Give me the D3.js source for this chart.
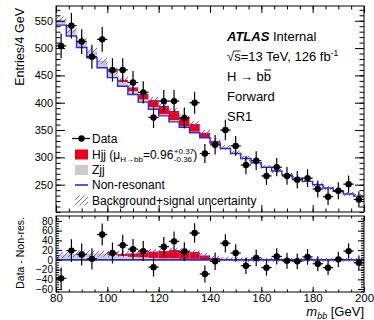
<!DOCTYPE html>
<html>
<head>
<meta charset="utf-8">
<script src="https://cdn.jsdelivr.net/npm/d3@7"></script>
<style>
  body { margin: 0; background: #fff; }
  svg text { font-family: "Liberation Sans", Arial, Helvetica, sans-serif; fill: #000; }
</style>
</head>
<body>
<svg id="chart" width="374" height="320"></svg>
<script>
// bin centres of the m_bb histogram (4 GeV bins)
const binCenters = [82, 86, 90, 94, 98, 102, 106, 110, 114, 118, 122, 126, 130, 134, 138,
                    142, 146, 150, 154, 158, 162, 166, 170, 174, 178, 182, 186, 190, 194, 198];
const dataCounts = [504, 541, 512, 484, 516, 460, 460, 437, 419, 373, 403, 403, 372, 400, 307,
                    323, 350, 321, 286, 294, 266, 282, 266, 259, 262, 242, 228, 239, 251, 223];
const nonResonant = [542, 522, 501, 482, 464, 446, 430, 415, 401, 388, 376, 365, 355, 345, 336,
                     326, 316, 307, 298, 290, 282, 275, 268, 262, 256, 250, 244, 238, 233, 229];
const zjj = [10, 12, 13, 13, 12, 10, 8, 6, 5, 4, 3, 3, 2, 2, 1,
             1, 0.5, 0.5, 0.3, 0.3, 0.2, 0.2, 0, 0, 0, 0, 0, 0, 0, 0];
const hjj = [0, 0, 0, 0, 0.5, 2, 4, 7, 10, 13, 15, 17, 17, 14, 8,
             3, 1.5, 0.5, 0, 0, 0, 0, 0, 0, 0, 0, 0, 0, 0, 0];
const bandUnc = [6, 6, 6, 6, 6, 6, 6, 6, 5.5, 5.5, 5.5, 5.5, 5, 5, 5,
                 5, 4.5, 4.5, 4.5, 4.5, 4, 4, 4, 4, 4, 4, 4, 4, 4, 4];

const upperTicks = [250, 300, 350, 400, 450, 500, 550];
const lowerTicks = [-60, -40, -20, 0, 20, 40, 60, 80];
const xTicks = [80, 100, 120, 140, 160, 180, 200];

const binWidth = 4;
const left = 56, right = 364;
const upTop = 6, upBottom = 212;
const loTop = 216, loBottom = 292;

const red = '#e8001c', gray = '#cccccc', blue = '#2b2bd6', hatchCol = '#5c5cf0';

const x = d3.scaleLinear().domain([80, 200]).range([left, right]);
const yTop = d3.scaleLinear().domain([200, 577]).range([upBottom, upTop]);
const yBot = d3.scaleLinear().domain([-66, 90]).range([loBottom, loTop]);

const rows = binCenters.map((c, i) => ({
  lo: c - binWidth / 2, hi: c + binWidth / 2, c: c,
  nr: nonResonant[i], z: zjj[i], h: hjj[i], u: bandUnc[i], d: dataCounts[i]
}));

const svg = d3.select('#chart');
const defs = svg.append('defs');

const pat = defs.append('pattern')
  .attr('id', 'hatch')
  .attr('patternUnits', 'userSpaceOnUse')
  .attr('width', 5).attr('height', 5);
pat.append('path')
  .attr('d', 'M-1,1 L1,-1 M0,5 L5,0 M4,6 L6,4')
  .attr('stroke', hatchCol).attr('stroke-width', 0.9);

defs.append('clipPath').attr('id', 'clipUp')
  .append('rect').attr('x', left).attr('y', upTop).attr('width', right - left).attr('height', upBottom - upTop);
defs.append('clipPath').attr('id', 'clipLo')
  .append('rect').attr('x', left).attr('y', loTop).attr('width', right - left).attr('height', loBottom - loTop);

// ---------- panels ----------
function drawPanel(y, clipId, isRatio) {
  const g = svg.append('g').attr('clip-path', `url(#${clipId})`);
  const b = r => isRatio ? 0 : r.nr;

  g.selectAll('rect.zjj').data(rows).enter().append('rect')
    .attr('class', 'zjj')
    .attr('x', r => x(r.lo)).attr('width', r => x(r.hi) - x(r.lo))
    .attr('y', r => y(b(r) + r.z)).attr('height', r => y(b(r)) - y(b(r) + r.z))
    .attr('fill', gray);

  g.selectAll('rect.hjj').data(rows).enter().append('rect')
    .attr('class', 'hjj')
    .attr('x', r => x(r.lo)).attr('width', r => x(r.hi) - x(r.lo))
    .attr('y', r => y(b(r) + r.z + r.h)).attr('height', r => y(b(r) + r.z) - y(b(r) + r.z + r.h))
    .attr('fill', red);

  const last = rows[rows.length - 1];
  const stepPts = rows.concat([{ ...last, lo: last.hi }]);

  const band = d3.area()
    .curve(d3.curveStepAfter)
    .x(r => x(r.lo))
    .y0(r => y(b(r) + r.z + r.h - r.u))
    .y1(r => y(b(r) + r.z + r.h + r.u));
  g.append('path').datum(stepPts).attr('d', band).attr('fill', 'url(#hatch)');

  const line = d3.line().curve(d3.curveStepAfter)
    .x(r => x(r.lo)).y(r => y(b(r)));
  g.append('path').datum(stepPts).attr('d', line)
    .attr('fill', 'none').attr('stroke', blue).attr('stroke-width', isRatio ? 1.8 : 1.4);

  // data
  const val = r => isRatio ? r.d - r.nr : r.d;
  const err = r => Math.sqrt(r.d);
  const dg = svg.append('g');
  dg.selectAll('line.ey').data(rows).enter().append('line')
    .attr('x1', r => x(r.c)).attr('x2', r => x(r.c))
    .attr('y1', r => y(val(r) - err(r))).attr('y2', r => y(val(r) + err(r)))
    .attr('stroke', '#000').attr('stroke-width', 1.2);
  dg.selectAll('line.ex').data(rows).enter().append('line')
    .attr('x1', r => x(r.lo)).attr('x2', r => x(r.hi))
    .attr('y1', r => y(val(r))).attr('y2', r => y(val(r)))
    .attr('stroke', '#000').attr('stroke-width', 1.2);
  dg.selectAll('circle').data(rows).enter().append('circle')
    .attr('cx', r => x(r.c)).attr('cy', r => y(val(r))).attr('r', 3.2)
    .attr('fill', '#000');
}

drawPanel(yTop, 'clipUp', false);
drawPanel(yBot, 'clipLo', true);

// ---------- axes ----------
function styleAxis(g) {
  g.select('.domain').remove();
  g.selectAll('line').attr('stroke', '#000').attr('stroke-width', 1);
  g.selectAll('text').attr('fill', '#000').style('font-family', '"Liberation Sans", Arial, sans-serif');
}
function addAxis(axis, tx, ty, fontSize) {
  const g = svg.append('g').attr('transform', `translate(${tx},${ty})`).call(axis).call(styleAxis);
  if (fontSize) g.selectAll('text').style('font-size', fontSize + 'px');
  return g;
}

const upMinor = d3.range(200, 577, 10);
const loMinor = d3.range(-65, 90, 5);
const xMinor = d3.range(80, 201, 5);

// upper y
addAxis(d3.axisLeft(yTop).tickValues(upperTicks).tickSize(-9).tickPadding(3), left, 0, 11);
addAxis(d3.axisLeft(yTop).tickValues(upMinor).tickSize(-4.5).tickFormat(''), left, 0);
addAxis(d3.axisRight(yTop).tickValues(upperTicks).tickSize(-9).tickFormat(''), right, 0);
addAxis(d3.axisRight(yTop).tickValues(upMinor).tickSize(-4.5).tickFormat(''), right, 0);
// upper x
addAxis(d3.axisTop(x).tickValues(xTicks).tickSize(-7).tickFormat(''), 0, upTop);
addAxis(d3.axisTop(x).tickValues(xMinor).tickSize(-3.5).tickFormat(''), 0, upTop);
addAxis(d3.axisBottom(x).tickValues(xTicks).tickSize(-7).tickFormat(''), 0, upBottom);
addAxis(d3.axisBottom(x).tickValues(xMinor).tickSize(-3.5).tickFormat(''), 0, upBottom);
// lower y
addAxis(d3.axisLeft(yBot).tickValues(lowerTicks).tickSize(-6).tickPadding(3), left, 0, 10);
addAxis(d3.axisLeft(yBot).tickValues(loMinor).tickSize(-3).tickFormat(''), left, 0);
addAxis(d3.axisRight(yBot).tickValues(lowerTicks).tickSize(-6).tickFormat(''), right, 0);
addAxis(d3.axisRight(yBot).tickValues(loMinor).tickSize(-3).tickFormat(''), right, 0);
// lower x
addAxis(d3.axisBottom(x).tickValues(xTicks).tickSize(-5).tickPadding(1.5), 0, loBottom, 11.5);
addAxis(d3.axisBottom(x).tickValues(xMinor).tickSize(-2.5).tickFormat(''), 0, loBottom);
addAxis(d3.axisTop(x).tickValues(xTicks).tickSize(-5).tickFormat(''), 0, loTop);
addAxis(d3.axisTop(x).tickValues(xMinor).tickSize(-2.5).tickFormat(''), 0, loTop);

// frames
svg.append('rect').attr('x', left).attr('y', upTop).attr('width', right - left).attr('height', upBottom - upTop)
  .attr('fill', 'none').attr('stroke', '#000').attr('stroke-width', 1);
svg.append('rect').attr('x', left).attr('y', loTop).attr('width', right - left).attr('height', loBottom - loTop)
  .attr('fill', 'none').attr('stroke', '#000').attr('stroke-width', 1);

// axis titles
svg.append('text').attr('transform', 'translate(24,8) rotate(-90)')
  .attr('text-anchor', 'end').style('font-size', '12.5px').text('Entries/4 GeV');
svg.append('text').attr('transform', `translate(24,${loTop + 1}) rotate(-90)`)
  .attr('text-anchor', 'end').style('font-size', '10.5px').text('Data - Non-res.');

const xt = svg.append('text').attr('x', right).attr('y', 316).attr('text-anchor', 'end').style('font-size', '13px');
xt.append('tspan').style('font-style', 'italic').text('m');
xt.append('tspan').style('font-style', 'italic').style('font-size', '9px').attr('dy', 2.5).text('bb');
xt.append('tspan').attr('dy', -2.5).text(' [GeV]');

// ---------- labels top right ----------
const lx = 227, ly0 = 41, lstep = 20;
const t1 = svg.append('text').attr('x', lx).attr('y', ly0).style('font-size', '13px');
t1.append('tspan').style('font-weight', 'bold').style('font-style', 'italic').text('ATLAS');
t1.append('tspan').text(' Internal');

const t2 = svg.append('text').attr('x', lx).attr('y', ly0 + lstep).style('font-size', '13px');
t2.append('tspan').text('\u221As=13 TeV, 126 fb');
t2.append('tspan').style('font-size', '8.5px').attr('dy', -5).text('-1');
// bar of the square root over s
const sq = t2.node().getSubStringLength(0, 1);
const sw = t2.node().getSubStringLength(1, 1);
svg.append('line').attr('x1', lx + sq - 0.5).attr('x2', lx + sq + sw)
  .attr('y1', ly0 + lstep - 10).attr('y2', ly0 + lstep - 10).attr('stroke', '#000').attr('stroke-width', 0.8);

const t3 = svg.append('text').attr('x', lx).attr('y', ly0 + 2 * lstep).style('font-size', '13px').text('H \u2192 bb');
const bStart = t3.node().getSubStringLength(0, 5);
const bW = t3.node().getSubStringLength(5, 1);
svg.append('line').attr('x1', lx + bStart + 0.5).attr('x2', lx + bStart + bW)
  .attr('y1', ly0 + 2 * lstep - 11).attr('y2', ly0 + 2 * lstep - 11).attr('stroke', '#000').attr('stroke-width', 1);

svg.append('text').attr('x', lx).attr('y', ly0 + 3 * lstep).style('font-size', '13px').text('Forward');
svg.append('text').attr('x', lx).attr('y', ly0 + 4 * lstep).style('font-size', '13px').text('SR1');

// ---------- legend ----------
const legX = 75, legW = 13, legTx = 92;
const legY = [138.5, 154.5, 170, 185, 200.5];
const leg = svg.append('g').style('font-size', '12px');

leg.append('line').attr('x1', 72).attr('x2', 90).attr('y1', legY[0]).attr('y2', legY[0])
  .attr('stroke', '#000').attr('stroke-width', 1.2);
leg.append('circle').attr('cx', 81.5).attr('cy', legY[0]).attr('r', 3.2).attr('fill', '#000');
leg.append('text').attr('x', legTx).attr('y', legY[0] + 4.3).text('Data');

leg.append('rect').attr('x', legX).attr('y', legY[1] - 5).attr('width', legW).attr('height', 10).attr('fill', red);
const ht = leg.append('text').attr('x', legTx).attr('y', legY[1] + 4.3);
ht.append('tspan').text('Hjj (\u03bc');
ht.append('tspan').style('font-size', '8px').attr('dy', 3).text('H\u2192bb');
ht.append('tspan').attr('dy', -3).text('=0.96');
const hw = ht.node().getComputedTextLength();
leg.append('text').attr('x', legTx + hw + 0.5).attr('y', legY[1] - 0.5).style('font-size', '8px').text('+0.37');
leg.append('text').attr('x', legTx + hw + 0.5).attr('y', legY[1] + 7.5).style('font-size', '8px').text('-0.36');
leg.append('text').attr('x', legTx + hw + 20).attr('y', legY[1] + 4.3).text(')');

leg.append('rect').attr('x', legX).attr('y', legY[2] - 5).attr('width', legW).attr('height', 10).attr('fill', gray);
leg.append('text').attr('x', legTx).attr('y', legY[2] + 4.3).text('Zjj');

leg.append('line').attr('x1', legX).attr('x2', legX + legW).attr('y1', legY[3]).attr('y2', legY[3])
  .attr('stroke', blue).attr('stroke-width', 1.6);
leg.append('text').attr('x', legTx).attr('y', legY[3] + 4.3).text('Non-resonant');

leg.append('rect').attr('x', legX).attr('y', legY[4] - 5).attr('width', legW).attr('height', 10).attr('fill', 'url(#hatch)');
leg.append('text').attr('x', legTx).attr('y', legY[4] + 4.3).text('Background+signal uncertainty');
</script>
</body>
</html>
